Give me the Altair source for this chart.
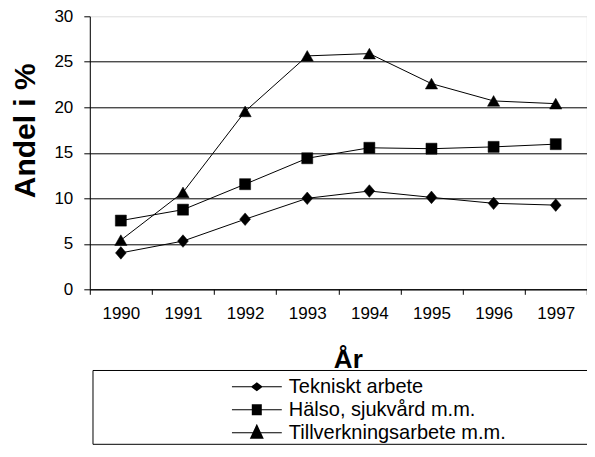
import altair as alt
import pandas as pd

years = ["1990", "1991", "1992", "1993", "1994", "1995", "1996", "1997"]
series = ["Tekniskt arbete", "Hälso, sjukvård m.m.", "Tillverkningsarbete m.m."]
tekniskt = [4.0, 5.3, 7.7, 10.0, 10.8, 10.1, 9.45, 9.25]
halso = [7.55, 8.75, 11.55, 14.4, 15.55, 15.45, 15.65, 15.95]
tillverkning = [5.4, 10.65, 19.55, 25.65, 25.9, 22.6, 20.7, 20.4]
y_ticks = [0, 5, 10, 15, 20, 25, 30]

rows = []
for name, vals in zip(series, [tekniskt, halso, tillverkning]):
    for yr, v in zip(years, vals):
        rows.append({"year": yr, "value": v, "series": name})
df = pd.DataFrame(rows)

FONT = "Liberation Sans"
W, H = 497, 273
PAD_L, PAD_T = 81.8, 8.3

chart_shapes = [
    "M0,-1.05L0.9,0L0,1.05L-0.9,0Z",
    "M-0.92,-0.92H0.92V0.92H-0.92Z",
    "M0,-0.89L1.02,0.89L-1.02,0.89Z",
]
# legend symbols: a thin filled bar (the line) plus the marker, all clockwise
legend_shapes = [
    "M-1,-0.02H1V0.02H-1ZM0,-0.18L0.24,0L0,0.18L-0.24,0Z",
    "M-1,-0.02H1V0.02H-1ZM-0.2,-0.22H0.2V0.22H-0.2Z",
    "M-1,-0.02H1V0.02H-1ZM0,-0.36L0.28,0.24L-0.28,0.24Z",
]

x_enc = alt.X(
    "year:O",
    sort=years,
    scale=alt.Scale(type="band", paddingInner=0, paddingOuter=0),
    axis=alt.Axis(
        labelAngle=0, tickBand="extent", tickSize=5, labelPadding=11,
        labelFontSize=17, labelFont=FONT, labelColor="black",
        domainColor="black", tickColor="black", grid=False,
        title="År", titleFontSize=26, titleFont=FONT, titleFontWeight="bold",
        titleColor="black", titleX=258, titleY=78, titleBaseline="alphabetic",
        titleAlign="center",
    ),
)
y_enc = alt.Y(
    "value:Q",
    scale=alt.Scale(domain=[0, 30], nice=False),
    axis=alt.Axis(
        values=y_ticks, tickSize=6, labelPadding=11, labelFontSize=17,
        labelFont=FONT, labelColor="black", domainColor="black", tickColor="black",
        grid=True, gridColor="black", gridWidth=1,
        gridOpacity={"condition": {"test": "datum.value === 30", "value": 0}, "value": 1},
        title="Andel i %", titleFontSize=30, titleFont=FONT, titleFontWeight="bold",
        titleColor="black", titleAngle=270, titleX=-64, titleY=114,
        titleBaseline="middle", titleAlign="center",
    ),
)

base = alt.Chart(df)

lines = base.mark_line(color="black", strokeWidth=1).encode(
    x=x_enc, y=y_enc, detail="series:N"
)

points = base.mark_point(filled=True, fill="black", stroke="black", strokeWidth=0.5,
                         opacity=1, size=144).encode(
    x=x_enc, y=y_enc,
    shape=alt.Shape("series:N", scale=alt.Scale(domain=series, range=chart_shapes), legend=None),
)

legend_layer = base.transform_filter("false").mark_point(
    filled=True, fill="black", size=2500
).encode(
    x=x_enc, y=y_enc,
    shape=alt.Shape(
        "series:N",
        scale=alt.Scale(domain=series, range=legend_shapes),
        legend=alt.Legend(
            title=None, orient="none", legendX=142, legendY=359,
            padding=0, clipHeight=23, rowPadding=0, labelOffset=7,
            labelFont=FONT, labelFontSize=20, labelColor="black", labelLimit=400,
            symbolSize=2500, symbolFillColor="black", symbolStrokeWidth=0,
            symbolOpacity=1,
        ),
    ),
)

box = alt.Chart(pd.DataFrame({"a": [0]})).mark_rect(
    fill="white", fillOpacity=0, stroke="black", strokeWidth=1
).encode(
    x=alt.value(3.2), x2=alt.value(W + 12), y=alt.value(354.2), y2=alt.value(428)
)

chart = (
    alt.layer(lines, points, legend_layer, box)
    .resolve_scale(shape="independent")
    .properties(
        width=W, height=H,
        autosize=alt.AutoSizeParams(type="none"),
        padding={"left": PAD_L, "top": PAD_T, "right": 0, "bottom": 155.7},
    )
    .configure_view(stroke=None)
    .configure(background="white")
)

chart.save("out.html", embed_options={"renderer": "svg", "actions": False})
